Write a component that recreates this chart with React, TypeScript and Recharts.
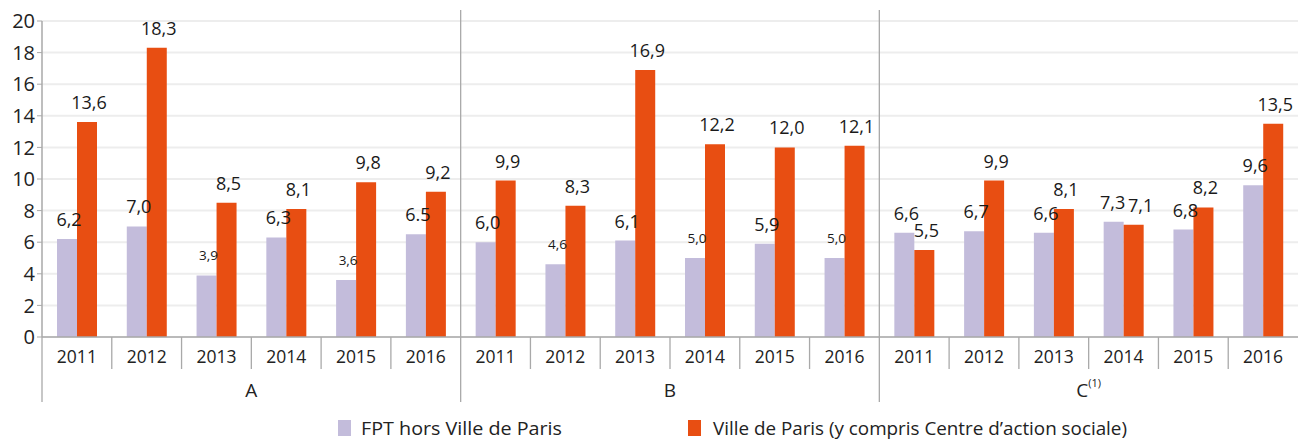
import React from "react";
import { BarChart, Bar, XAxis, YAxis, CartesianGrid, LabelList } from "recharts";

const groups = ["A", "B", "C"];
const groupNotes = ["", "", "(1)"];
const years = ["2011", "2012", "2013", "2014", "2015", "2016"];

const fptValues = [6.2, 7.0, 3.9, 6.3, 3.6, 6.5, 6.0, 4.6, 6.1, 5.0, 5.9, 5.0, 6.6, 6.7, 6.6, 7.3, 6.8, 9.6];
const villeValues = [13.6, 18.3, 8.5, 8.1, 9.8, 9.2, 9.9, 8.3, 16.9, 12.2, 12.0, 12.1, 5.5, 9.9, 8.1, 7.1, 8.2, 13.5];

const fptLabels = ["6,2", "7,0", "3,9", "6,3", "3,6", "6.5", "6,0", "4,6", "6,1", "5,0", "5,9", "5,0", "6,6", "6,7", "6,6", "7,3", "6,8", "9,6"];
const villeLabels = ["13,6", "18,3", "8,5", "8,1", "9,8", "9,2", "9,9", "8,3", "16,9", "12,2", "12,0", "12,1", "5,5", "9,9", "8,1", "7,1", "8,2", "13,5"];

const yTicks = [0, 2, 4, 6, 8, 10, 12, 14, 16, 18, 20];

const seriesNames = ["FPT hors Ville de Paris", "Ville de Paris (y compris Centre d\u2019action sociale)"];

const data = groups.flatMap((g, gi) =>
  years.map((y, yi) => {
    const i = gi * 6 + yi;
    return { key: `${g}-${y}`, group: g, year: y, fpt: fptValues[i], ville: villeValues[i] };
  })
);

const W = 1298;
const H = 439;
const PLOT_LEFT = 42;
const PLOT_TOP = 21;
const AXIS_Y = 337;
const PLOT_W = W - PLOT_LEFT;
const BAND = PLOT_W / data.length;
const FONT = "'Open Sans', sans-serif";
const AXIS_COLOR = "#a9a9a9";
const PURPLE = "#c3bcdb";
const ORANGE = "#e84e12";

const YearTick = (props: any) => {
  const { x, payload } = props;
  const i = payload.index;
  const left = x - BAND / 2;
  const groupStart = i % 6 === 0;
  const gi = Math.floor(i / 6);
  return (
    <g>
      <line
        x1={left}
        x2={left}
        y1={groupStart && i > 0 ? 10 : AXIS_Y}
        y2={groupStart ? 402 : 369}
        stroke={AXIS_COLOR}
        strokeWidth={1.3}
      />
      <text x={x} y={356} textAnchor="middle" dominantBaseline="central" fontSize={17.5} fill="#222" fontFamily={FONT}>
        {data[i].year}
      </text>
      {i % 6 === 2 && (
        <text x={PLOT_LEFT + (gi + 0.5) * BAND * 6} y={390} textAnchor="middle" dominantBaseline="central" fontSize={19} fill="#222" fontFamily={FONT}>
          {groups[gi]}
          {groupNotes[gi] && (
            <tspan fontSize={11} dy={-8}>
              {groupNotes[gi]}
            </tspan>
          )}
        </text>
      )}
    </g>
  );
};

// when both labels of a year sit at the same height, push them apart a little
const makeLabel = (values: number[], labels: string[], other: number[], side: number) => (props: any) => {
  const { x, y, width, index } = props;
  const small = values[index] <= 5;
  const close = Math.abs(values[index] - other[index]) < 0.5;
  const dx = close ? (side < 0 ? -1 : 7) : 2;
  return (
    <text
      x={x + width / 2 + dx}
      y={y - 20}
      textAnchor="middle"
      dominantBaseline="central"
      fontSize={small ? 13.5 : 18}
      fill="#1a1a1a"
      fontFamily={FONT}
    >
      {labels[index]}
    </text>
  );
};

const LegendRow = () => (
  <svg width={W} height={40} style={{ position: "absolute", left: 0, top: 408 }}>
    <rect x={338} y={12} width={13} height={16} fill={PURPLE} />
    <text x={361} y={27} fontSize={18} fill="#222" fontFamily={FONT} textLength={201} lengthAdjust="spacingAndGlyphs">
      {seriesNames[0]}
    </text>
    <rect x={688} y={12} width={13} height={16} fill={ORANGE} />
    <text x={713} y={27} fontSize={18} fill="#222" fontFamily={FONT} textLength={414} lengthAdjust="spacingAndGlyphs">
      {seriesNames[1]}
    </text>
  </svg>
);

export default function App() {
  return (
    <div style={{ position: "absolute", left: 0, top: 0, width: W, height: H, background: "#fff" }}>
      <BarChart
        width={W}
        height={H}
        data={data}
        margin={{ top: PLOT_TOP, right: 0, left: 0, bottom: H - AXIS_Y - 65 }}
        barGap={0}
        barSize={20}
      >
        <CartesianGrid vertical={false} stroke="#ededed" strokeWidth={2} />
        <XAxis
          dataKey="key"
          height={65}
          axisLine={{ stroke: AXIS_COLOR, strokeWidth: 1.5 }}
          tickLine={false}
          interval={0}
          tick={<YearTick />}
        />
        <YAxis
          width={PLOT_LEFT}
          domain={[0, 20]}
          ticks={yTicks}
          interval={0}
          axisLine={{ stroke: AXIS_COLOR, strokeWidth: 1.5 }}
          tickLine={{ stroke: AXIS_COLOR }}
          tickSize={5}
          tick={{ fontSize: 20, fill: "#222", fontFamily: FONT }}
        />
        <Bar dataKey="fpt" fill={PURPLE} isAnimationActive={false}>
          <LabelList dataKey="fpt" content={makeLabel(fptValues, fptLabels, villeValues, -1)} />
        </Bar>
        <Bar dataKey="ville" fill={ORANGE} isAnimationActive={false}>
          <LabelList dataKey="ville" content={makeLabel(villeValues, villeLabels, fptValues, 1)} />
        </Bar>
      </BarChart>
      <LegendRow />
    </div>
  );
}
